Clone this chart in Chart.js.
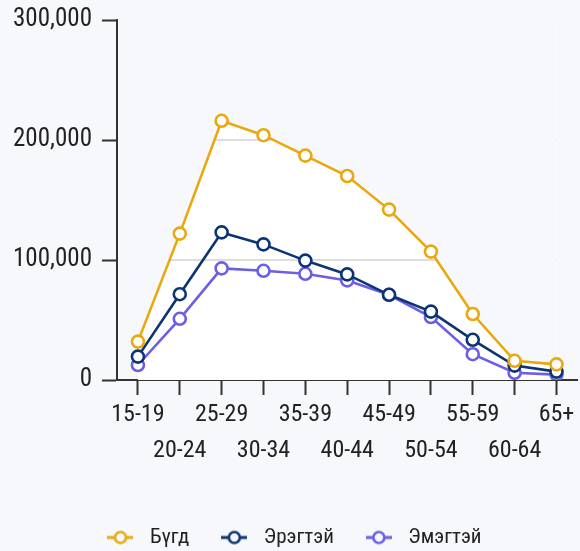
<!DOCTYPE html>
<html>
<head>
<meta charset="utf-8">
<script src="https://cdn.jsdelivr.net/npm/chart.js@4.4.1/dist/chart.umd.min.js"></script>
<style>
  html, body { margin: 0; padding: 0; background: #f7f8fc; overflow: hidden; }
  #wrap { width: 580px; height: 551px; position: relative; overflow: hidden; }
</style>
</head>
<body>
<div id="wrap"><canvas id="c" width="586" height="558"></canvas></div>
<script>
const categories = ['15-19','20-24','25-29','30-34','35-39','40-44','45-49','50-54','55-59','60-64','65+'];
const seriesNames = ['Бүгд', 'Эрэгтэй', 'Эмэгтэй'];
const totalValues  = [32000, 122000, 216000, 204000, 187000, 170000, 142000, 107000, 55000, 16000, 13000];
const maleValues   = [19500, 71500, 123000, 113000, 99500, 88000, 71000, 57000, 33500, 12000, 7000];
const femaleValues = [12500, 51000, 93000, 91000, 88500, 83000, 71000, 52500, 21500, 6000, 4500];
const yTickValues  = [0, 100000, 200000, 300000];

const BG = '#f7f8fc';
const colors = ['#e9a80d', '#0c3473', '#6c5ee6'];
const FONT = "'Liberation Sans Narrow', 'Roboto Condensed', 'DejaVu Sans Condensed', sans-serif";

function legendIcon(color) {
  const cv = document.createElement('canvas');
  cv.width = 26; cv.height = 16;
  const g = cv.getContext('2d');
  g.strokeStyle = color; g.lineWidth = 3;
  g.beginPath(); g.moveTo(0, 8); g.lineTo(26, 8); g.stroke();
  g.beginPath(); g.arc(13, 8, 5.5, 0, Math.PI * 2);
  g.fillStyle = BG; g.fill(); g.lineWidth = 2.6; g.stroke();
  return cv;
}
const icons = colors.map(legendIcon);

const innerFill = {
  id: 'innerFill',
  beforeDatasetsDraw(chart) {
    const { ctx, chartArea, scales } = chart;
    const x0 = scales.x.getPixelForValue(0);
    const x1 = scales.x.getPixelForValue(categories.length - 1);
    ctx.save();
    ctx.fillStyle = '#ffffff';
    ctx.fillRect(x0, chartArea.top, x1 - x0, chartArea.bottom - chartArea.top);
    ctx.strokeStyle = '#dcdcdc';
    ctx.lineWidth = 2;
    yTickValues.forEach(v => {
      if (v === 0 || v === 300000) return;
      const y = scales.y.getPixelForValue(v);
      ctx.beginPath(); ctx.moveTo(x0, y); ctx.lineTo(x1, y); ctx.stroke();
    });
    ctx.restore();
  }
};

function ds(label, data, color, fill) {
  return {
    label, data,
    borderColor: color,
    backgroundColor: fill ? BG : color,
    fill: fill ? 'end' : false,
    borderWidth: 2.6,
    pointRadius: 6,
    pointBorderWidth: 2.6,
    pointBackgroundColor: '#ffffff',
    pointBorderColor: color,
    tension: 0
  };
}

new Chart(document.getElementById('c'), {
  type: 'line',
  data: {
    labels: categories,
    datasets: [
      ds(seriesNames[0], totalValues, colors[0], true),
      ds(seriesNames[1], maleValues, colors[1], false),
      ds(seriesNames[2], femaleValues, colors[2], false)
    ]
  },
  plugins: [innerFill],
  options: {
    responsive: false,
    animation: false,
    layout: { padding: { top: 20, right: 3, left: 0, bottom: 0 } },
    plugins: {
      tooltip: { enabled: false },
      legend: {
        position: 'bottom',
        labels: {
          font: { family: FONT, size: 21 },
          color: '#222',
          usePointStyle: true,
          pointStyleWidth: 38,
          padding: 26,
          generateLabels(chart) {
            return chart.data.datasets.map((d, i) => ({
              text: d.label,
              pointStyle: icons[i],
              fillStyle: colors[i],
              strokeStyle: colors[i],
              lineWidth: 0,
              fontColor: '#222',
              datasetIndex: i,
              hidden: false
            }));
          }
        }
      }
    },
    scales: {
      x: {
        offset: true,
        grid: { drawOnChartArea: false, drawTicks: true, tickLength: 15, tickColor: '#333', tickWidth: 2, offset: false },
        border: { color: '#333', width: 2 },
        ticks: {
          autoSkip: false, maxRotation: 0, minRotation: 0, padding: 2,
          color: '#222',
          font: { family: FONT, size: 24, lineHeight: 1.5 },
          callback(value, index) {
            const l = categories[index];
            return index % 2 === 1 ? ['', l] : l;
          }
        },
        afterFit(scale) { scale.height += 30; scale.paddingLeft = 0; scale.paddingRight = 0; }
      },
      y: {
        min: 0, max: 300000,
        afterBuildTicks(scale) { scale.ticks = yTickValues.map(v => ({ value: v })); },
        grid: { drawOnChartArea: false, drawTicks: true, tickLength: 15, tickColor: '#333', tickWidth: 2 },
        border: { color: '#333', width: 2 },
        ticks: {
          padding: 10,
          color: '#222',
          font: { family: FONT, size: 25 },
          callback(v) { return Number(v).toLocaleString('en-US'); }
        },
        afterFit(scale) { scale.width = 117; scale.paddingTop = 0; scale.paddingBottom = 0; }
      }
    }
  }
});
</script>
</body>
</html>
